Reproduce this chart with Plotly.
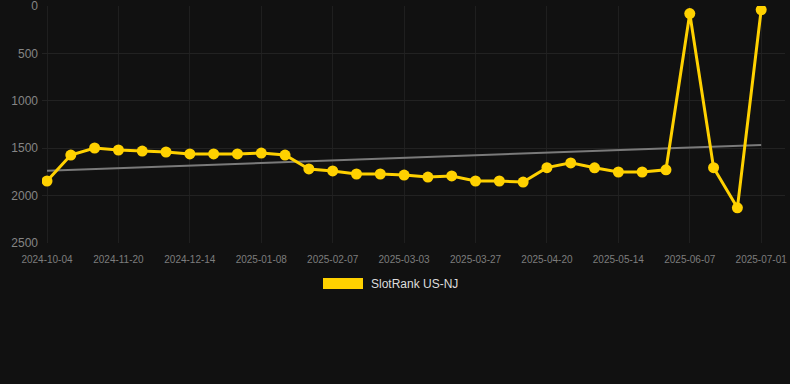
import plotly.graph_objects as go

dates = ["2024-10-04", "2024-10-20", "2024-11-04", "2024-11-20", "2024-11-28", "2024-12-06",
         "2024-12-14", "2024-12-22", "2024-12-30", "2025-01-08", "2025-01-18", "2025-01-28",
         "2025-02-07", "2025-02-15", "2025-02-23", "2025-03-03", "2025-03-11", "2025-03-19",
         "2025-03-27", "2025-04-04", "2025-04-12", "2025-04-20", "2025-04-28", "2025-05-06",
         "2025-05-14", "2025-05-22", "2025-05-30", "2025-06-07", "2025-06-15", "2025-06-23",
         "2025-07-01"]
rank = [1846, 1572, 1498, 1519, 1530, 1540, 1561, 1561, 1561, 1551, 1572, 1719,
        1740, 1772, 1772, 1783, 1804, 1793, 1846, 1846, 1857, 1705, 1655, 1707,
        1751, 1751, 1728, 80, 1706, 2129, 40]
trend_x = [dates[0], dates[-1]]
trend_y = [1737, 1466]
tick_labels = dates[::3]
y_ticks = [0, 500, 1000, 1500, 2000, 2500]
series_name = "SlotRank US-NJ"

L, T, B = 42, 6, 243
PW = 790 - L - 5
PH = B - T

fig = go.Figure()
fig.add_trace(go.Scatter(x=trend_x, y=trend_y, mode="lines",
                         line=dict(color="#7a7a7a", width=2), showlegend=False,
                         hoverinfo="skip"))
fig.add_trace(go.Scatter(x=dates, y=rank, mode="lines+markers", name=series_name,
                         line=dict(color="#FFD100", width=3),
                         marker=dict(color="#FFD100", size=11), showlegend=False))

fig.update_layout(
    width=790, height=384,
    paper_bgcolor="#111111", plot_bgcolor="#111111",
    margin=dict(l=L, r=5, t=T, b=384 - B),
    font=dict(family="Liberation Sans, Arial, sans-serif"),
    xaxis=dict(type="category", categoryorder="array", categoryarray=dates,
               range=[-0.21, 31.0], tickvals=tick_labels, ticktext=tick_labels,
               tickfont=dict(size=10, color="#7d7d7d"), showgrid=True,
               gridcolor="#1f1f1f", zeroline=False, showline=False, ticks="",
               ticklabelstandoff=9, ticklabeloverflow="allow", automargin=False),
    yaxis=dict(range=[2500, 0], tickvals=y_ticks, tickfont=dict(size=12, color="#858585"),
               showgrid=True, gridcolor="#222222", zeroline=False, showline=False,
               ticks="", ticklabelstandoff=3, ticklabeloverflow="allow", automargin=False),
    showlegend=False,
)

fig.add_shape(type="rect", xref="paper", yref="paper",
              x0=(323 - L) / PW, x1=(363 - L) / PW,
              y0=(B - 289) / PH, y1=(B - 278) / PH,
              fillcolor="#FFD100", line=dict(width=0))
fig.add_annotation(text=series_name, xref="paper", yref="paper",
                   x=(369 - L) / PW, y=(B - 284) / PH, xanchor="left", yanchor="middle",
                   showarrow=False, font=dict(size=12, color="#dddddd"))

fig.write_html("out.html", config={"displayModeBar": False},
               post_script="document.body.style.margin='0';")
